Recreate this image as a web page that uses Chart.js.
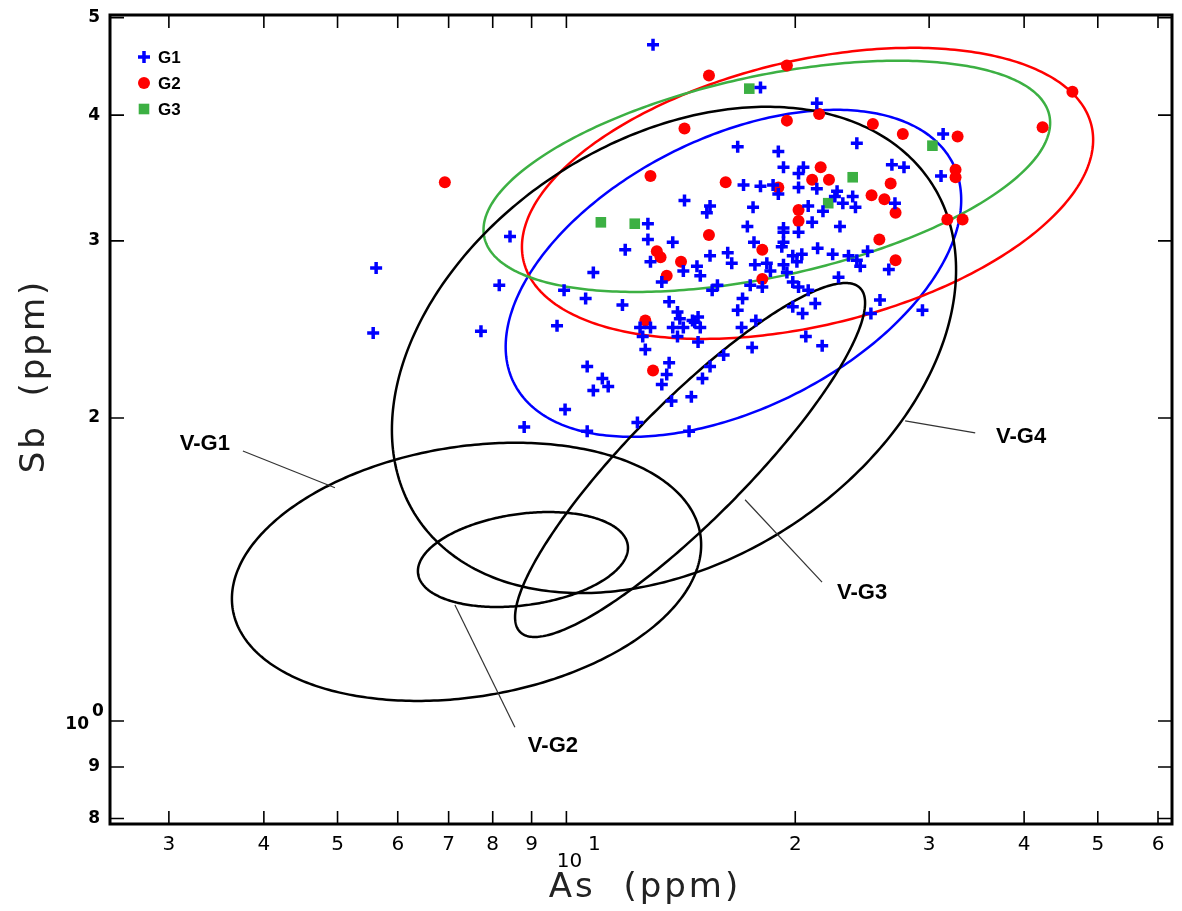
<!DOCTYPE html>
<html>
<head>
<meta charset="utf-8">
<title>As vs Sb</title>
<script src="https://cdn.jsdelivr.net/npm/chart.js@4/dist/chart.umd.min.js"></script>
<style>
  html, body { margin: 0; padding: 0; background: #fff; }
  #wrap { width: 1182px; height: 911px; }
</style>
</head>
<body>
<div id="wrap"><canvas id="chart" width="1182" height="911"></canvas></div>
<script>
// points as [As ppm, Sb ppm]
const g1 = [
  [13.0,4.70],[18.0,4.26],[16.8,3.72],[17.1,3.41],[18.0,3.40],[14.3,3.29],[15.45,3.25],[15.3,3.20],[17.6,3.24],[12.8,3.12],[17.3,3.10],
  [12.8,3.01],[13.8,2.99],[11.95,2.94],[17.65,2.99],[15.45,2.90],[16.3,2.92],[16.5,2.85],[12.9,2.86],[17.7,2.84],[10.85,2.79],[14.25,2.80],
  [14.85,2.83],[15.0,2.77],[13.35,2.73],[15.8,2.71],[15.55,2.68],[17.45,2.71],[10.6,2.63],[11.85,2.59],[13.65,2.61],[17.05,2.63],[16.8,2.56],
  [14.0,2.55],[14.1,2.51],[14.9,2.52],[14.75,2.49],[15.0,2.46],[14.65,2.50],[12.5,2.46],[12.9,2.46],[13.8,2.46],[14.25,2.46],[12.6,2.41],
  [14.0,2.41],[14.9,2.38],[17.0,2.46],[17.75,2.50],[17.55,2.35],[12.7,2.34],[16.1,2.31],[10.65,2.25],[13.65,2.27],[15.45,2.25],[11.15,2.19],
  [13.55,2.21],[15.1,2.19],[10.85,2.13],[11.35,2.15],[13.35,2.16],[14.6,2.10],[13.75,2.08],[12.4,1.98],[10.65,1.94],[14.5,1.94],
  [8.43,3.03],[5.62,2.82],[8.16,2.71],[9.93,2.68],[5.57,2.43],[7.72,2.44],[9.72,2.47],[9.96,2.04],[8.80,1.96],
  [21.35,4.11],[24.1,3.75],[19.0,3.68],[19.3,3.55],[20.5,3.55],[20.2,3.50],[26.8,3.57],[27.8,3.55],[18.7,3.41],[20.2,3.39],[21.35,3.38],
  [22.7,3.36],[22.55,3.32],[23.8,3.32],[19.0,3.34],[27.05,3.27],[23.1,3.27],[24.0,3.24],[20.8,3.25],[21.75,3.21],[21.05,3.13],[22.9,3.10],
  [19.3,3.09],[19.3,3.06],[20.2,3.06],[19.3,2.99],[19.2,2.96],[21.4,2.95],[22.4,2.91],[23.5,2.90],[19.85,2.90],[20.4,2.91],[24.9,2.93],
  [18.35,2.85],[19.3,2.84],[20.1,2.86],[24.1,2.87],[24.35,2.83],[18.55,2.80],[19.5,2.79],[26.55,2.81],[18.1,2.70],[19.85,2.73],[20.2,2.70],
  [20.8,2.68],[22.8,2.76],[21.25,2.60],[19.85,2.58],[20.45,2.54],[25.85,2.62],[25.15,2.54],[20.65,2.41],[21.7,2.36],
  [31.3,3.83],[31.1,3.48],[29.4,2.56]
];
const g2 = [
  [6.92,3.43],[15.4,4.38],[19.5,4.48],[14.3,3.88],[12.9,3.48],[16.2,3.43],[15.4,3.04],[13.15,2.93],[13.3,2.89],[14.15,2.86],[13.55,2.77],
  [12.7,2.50],[13.0,2.23],[21.5,4.01],[19.5,3.95],[25.3,3.92],[27.7,3.83],[21.6,3.55],[22.15,3.45],[21.05,3.45],[26.7,3.42],[19.0,3.39],
  [25.2,3.33],[26.2,3.30],[27.1,3.20],[20.2,3.22],[20.2,3.14],[18.1,2.94],[25.8,3.01],[27.1,2.87],[18.1,2.75],[46.3,4.22],[42.3,3.89],
  [32.7,3.81],[32.5,3.53],[32.5,3.47],[31.7,3.15],[33.2,3.15]
];
const g3 = [[11.1,3.13],[12.3,3.12],[17.4,4.25],[23.8,3.47],[22.1,3.27],[30.3,3.73]];

const xTicks = [3, 4, 5, 6, 7, 8, 9, 10, 20, 30, 40, 50, 60];
const xTickLabels = ['3', '4', '5', '6', '7', '8', '9', '', '2', '3', '4', '5', '6'];
const yTicks = [0.8, 0.9, 1, 2, 3, 4, 5];
const yTickLabels = ['8', '9', '', '2', '3', '4', '5'];

// ellipses: As left, As right, Sb bottom, Sb top, Sb at the rightmost point
const ellipseNames = ['G1', 'G2', 'G3', 'V-G1', 'V-G2', 'V-G3', 'V-G4'];
const ellipseBounds = [
  [8.32, 33.06, 1.916, 4.049, 3.295],
  [8.74, 49.3, 2.397, 4.666, 3.780],
  [7.78, 43.28, 2.669, 4.530, 3.930],
  [3.631, 15.04, 1.047, 1.890, 1.496],
  [6.378, 12.05, 1.298, 1.613, 1.486],
  [8.56, 24.71, 1.212, 2.724, 2.603],
  [5.895, 32.55, 1.340, 4.077, 2.807]
];

// callout labels for the V groups (As, Sb)
const calloutNames = ['V-G1', 'V-G2', 'V-G3', 'V-G4'];
const calloutText = [[3.345, 1.885], [9.60, 0.944], [24.49, 1.340], [39.64, 1.915]];
const calloutFrom = [[3.754, 1.855], [8.556, 0.986], [21.69, 1.374], [34.49, 1.933]];
const calloutTo = [[4.961, 1.705], [7.135, 1.304], [17.18, 1.659], [27.9, 1.987]];

const BLUE = '#0000ff', RED = '#ff0000', GREEN = '#3cb043';
const ellipseColor = { G1: BLUE, G2: RED, G3: GREEN };

const groupStyle = [
  { label: 'G1', pointStyle: 'cross', radius: 6, borderWidth: 3.5, color: BLUE },
  { label: 'G2', pointStyle: 'circle', radius: 6, borderWidth: 0, color: RED },
  { label: 'G3', pointStyle: 'rect', radius: 7.5, borderWidth: 0, color: GREEN }
];

const overlay = {
  id: 'overlay',
  beforeDatasetsDraw(chart) {
    const { ctx, scales: { x, y } } = chart;
    ctx.save();
    ellipseNames.forEach((name, i) => {
      const [a0, a1, s0, s1, sr] = ellipseBounds[i];
      const xl = x.getPixelForValue(a0), xr = x.getPixelForValue(a1);
      const yb = y.getPixelForValue(s0), yt = y.getPixelForValue(s1), yr = y.getPixelForValue(sr);
      const cx = (xl + xr) / 2, rx = (xr - xl) / 2, cy = (yb + yt) / 2, ry = (yb - yt) / 2;
      const d = Math.acos(Math.max(-1, Math.min(1, (yr - cy) / ry)));
      ctx.beginPath();
      for (let k = 0; k <= 360; k++) {
        const t = k / 360 * Math.PI * 2;
        const px = cx + rx * Math.cos(t), py = cy + ry * Math.cos(t - d);
        if (k === 0) ctx.moveTo(px, py); else ctx.lineTo(px, py);
      }
      ctx.closePath();
      ctx.strokeStyle = ellipseColor[name] || '#000';
      ctx.lineWidth = 2.5;
      ctx.stroke();
    });

    // callouts
    ctx.strokeStyle = '#333';
    ctx.lineWidth = 1.2;
    ctx.fillStyle = '#000';
    ctx.font = 'bold 22px "Liberation Sans", Arial, sans-serif';
    ctx.textAlign = 'center';
    ctx.textBaseline = 'middle';
    calloutNames.forEach((name, i) => {
      ctx.beginPath();
      ctx.moveTo(x.getPixelForValue(calloutFrom[i][0]), y.getPixelForValue(calloutFrom[i][1]));
      ctx.lineTo(x.getPixelForValue(calloutTo[i][0]), y.getPixelForValue(calloutTo[i][1]));
      ctx.stroke();
      ctx.fillText(name, x.getPixelForValue(calloutText[i][0]), y.getPixelForValue(calloutText[i][1]));
    });
    ctx.restore();
  },
  afterDraw(chart) {
    const { ctx, chartArea: a, scales: { x, y } } = chart;
    ctx.save();
    // frame
    ctx.strokeStyle = '#000';
    ctx.lineWidth = 3;
    ctx.strokeRect(a.left, a.top, a.right - a.left, a.bottom - a.top);
    // inward ticks on all sides
    ctx.lineWidth = 1.6;
    ctx.beginPath();
    xTicks.forEach(v => {
      const px = x.getPixelForValue(v);
      ctx.moveTo(px, a.bottom); ctx.lineTo(px, a.bottom - 13);
      ctx.moveTo(px, a.top); ctx.lineTo(px, a.top + 13);
    });
    yTicks.forEach(v => {
      const py = y.getPixelForValue(v);
      ctx.moveTo(a.left, py); ctx.lineTo(a.left + 14, py);
      ctx.moveTo(a.right, py); ctx.lineTo(a.right - 14, py);
    });
    ctx.stroke();

    // power-of-ten labels
    ctx.fillStyle = '#000';
    ctx.textBaseline = 'middle';
    ctx.textAlign = 'center';
    ctx.font = '20px "DejaVu Sans", sans-serif';
    const p10 = x.getPixelForValue(10);
    ctx.fillText('10', p10 + 3, 862);
    ctx.fillText('1', p10 + 28, 845);
    ctx.font = 'bold 17px "DejaVu Sans", sans-serif';
    const p1 = y.getPixelForValue(1);
    ctx.textAlign = 'right';
    ctx.fillText('10', 89, p1 + 4);
    ctx.textAlign = 'center';
    ctx.fillText('0', 98, p1 - 9);

    // axis titles
    ctx.font = '34px "DejaVu Sans", sans-serif';
    ctx.fillStyle = '#222';
    ctx.letterSpacing = '3px';
    ctx.textAlign = 'center';
    ctx.fillText('As  (ppm)', (a.left + a.right) / 2 + 4, 888);
    ctx.translate(35, 376);
    ctx.rotate(-Math.PI / 2);
    ctx.fillText('Sb  (ppm)', 0, 0);
    ctx.restore();

    // legend
    ctx.save();
    ctx.font = 'bold 17px "Liberation Sans", Arial, sans-serif';
    ctx.textAlign = 'left';
    ctx.textBaseline = 'middle';
    groupStyle.forEach((g, i) => {
      const ly = a.top + 42 + i * 26;
      ctx.fillStyle = g.color;
      ctx.strokeStyle = g.color;
      ctx.lineWidth = g.borderWidth;
      Chart.helpers.drawPoint(ctx, { pointStyle: g.pointStyle, radius: g.radius, borderWidth: g.borderWidth, rotation: 0 }, a.left + 34, ly);
      ctx.fillStyle = '#000';
      ctx.fillText(g.label, a.left + 48, ly + 1);
    });
    ctx.restore();
  }
};

const groups = [g1, g2, g3];

new Chart(document.getElementById('chart'), {
  type: 'scatter',
  data: {
    datasets: groupStyle.map((g, i) => ({
      label: g.label,
      data: groups[i].map(([as, sb]) => ({ x: as, y: sb })),
      pointStyle: g.pointStyle,
      pointRadius: g.radius,
      pointHoverRadius: g.radius,
      pointBorderWidth: g.borderWidth,
      pointBackgroundColor: g.color,
      pointBorderColor: g.color
    }))
  },
  options: {
    responsive: false,
    animation: false,
    devicePixelRatio: 1,
    layout: { padding: { top: 15, right: 10, left: 0, bottom: 0 } },
    plugins: { legend: { display: false }, tooltip: { enabled: false } },
    scales: {
      x: {
        type: 'logarithmic',
        min: 2.51,
        max: 62.6,
        bounds: 'data',
        grid: { display: false, drawTicks: false },
        border: { display: false },
        afterFit: s => { s.height = 87; s.paddingLeft = 0; s.paddingRight = 0; },
        afterBuildTicks: s => { s.ticks = xTicks.map(v => ({ value: v })); },
        ticks: {
          autoSkip: false, maxRotation: 0, padding: 9, color: '#000',
          font: { family: 'DejaVu Sans', size: 20 },
          callback: (v, i) => xTickLabels[i]
        }
      },
      y: {
        type: 'logarithmic',
        min: 0.79,
        max: 5.03,
        bounds: 'data',
        grid: { display: false, drawTicks: false },
        border: { display: false },
        afterFit: s => { s.width = 110; s.paddingTop = 0; s.paddingBottom = 0; },
        afterBuildTicks: s => { s.ticks = yTicks.map(v => ({ value: v })); },
        ticks: {
          autoSkip: false, padding: 10, color: '#000',
          font: { family: 'DejaVu Sans', size: 17, weight: 'bold' },
          callback: (v, i) => yTickLabels[i]
        }
      }
    }
  },
  plugins: [overlay]
});
</script>
</body>
</html>
